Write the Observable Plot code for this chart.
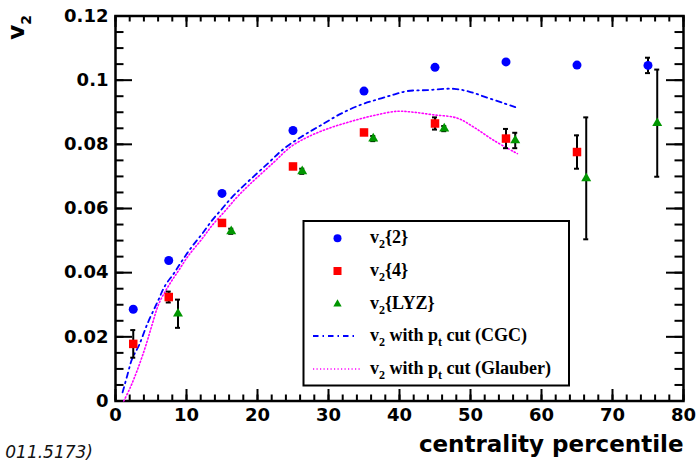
<!DOCTYPE html>
<html><head><meta charset="utf-8">
<script src="https://cdn.jsdelivr.net/npm/d3@7"></script>
<script src="https://cdn.jsdelivr.net/npm/@observablehq/plot@0.6"></script>
<style>
html,body{margin:0;padding:0;background:#fff;}
#wrap{position:relative;width:697px;height:461px;overflow:hidden;}
</style></head><body><div id="wrap"></div>
<script>
// ---- tick values & labels ----
const xMajor = [0, 10, 20, 30, 40, 50, 60, 70, 80];
const xTickLabels = ["0", "10", "20", "30", "40", "50", "60", "70", "80"];
const yMajor = [0, 0.02, 0.04, 0.06, 0.08, 0.1, 0.12];
const yTickLabels = ["0", "0.02", "0.04", "0.06", "0.08", "0.1", "0.12"];
const xMinor = d3.range(0, 80.001, 2);
const yMinor = d3.range(0, 0.12001, 0.005);

// ---- v2{2} (blue circles) ----
const v22X = [2.5, 7.5, 15, 25, 35, 45, 55, 65, 75];
const v22Y = [0.0286, 0.0438, 0.0647, 0.0843, 0.0966, 0.1040, 0.1057, 0.1047, 0.1046];
const v22E = [0, 0, 0, 0, 0, 0, 0, 0, 0.0024];

// ---- v2{4} (red squares) ----
const v24X = [2.5, 7.5, 15, 25, 35, 45, 55, 65];
const v24Y = [0.0178, 0.0324, 0.0555, 0.0731, 0.0837, 0.0865, 0.0818, 0.0776];
const v24E = [0.0043, 0.0017, 0.0008, 0.0008, 0.0008, 0.0019, 0.0030, 0.0052];

// ---- v2{LYZ} (green triangles) ----
const lyzX = [8.8, 16.3, 26.3, 36.3, 46.3, 56.3, 66.3, 76.3];
const lyzY = [0.0272, 0.0529, 0.0716, 0.0818, 0.0849, 0.0812, 0.0694, 0.0866];
const lyzE = [0.0044, 0.0008, 0.0008, 0.0008, 0.0008, 0.0024, 0.0190, 0.0167];

// ---- CGC curve (blue dash-dot) ----
const cgcX = [1.0, 1.65, 2.35, 3.3, 4.5, 5.9, 7.0, 8.2, 9.4, 10.8, 12.2, 13.6, 15.0, 16.4, 18.1, 21.4, 23.7, 26.5, 28.9, 31.7, 34.5, 36.9, 39.2, 41.1, 43.9, 47.7, 50.0, 52.4, 54.7, 56.3];
const cgcY = [0.0027, 0.0079, 0.0132, 0.0173, 0.0241, 0.0308, 0.0360, 0.0397, 0.0438, 0.0482, 0.0521, 0.0563, 0.0599, 0.0635, 0.0672, 0.0739, 0.0786, 0.0828, 0.0859, 0.0895, 0.0923, 0.0940, 0.0955, 0.0966, 0.0969, 0.0973, 0.0963, 0.0945, 0.0928, 0.0916];

// ---- Glauber curve (magenta dotted) ----
const glbX = [1.17, 2.1, 3.05, 4.2, 5.2, 6.1, 7.5, 8.9, 10.3, 12.0, 13.6, 15.5, 17.1, 19.0, 22.3, 24.6, 27.0, 29.8, 33.1, 36.4, 39.7, 42.0, 44.8, 48.1, 50.5, 53.3, 56.6];
const glbY = [0.0, 0.0043, 0.0095, 0.0168, 0.0241, 0.0303, 0.0360, 0.0407, 0.0454, 0.0500, 0.0547, 0.0594, 0.0635, 0.0677, 0.0744, 0.0791, 0.0822, 0.0848, 0.0871, 0.0890, 0.0903, 0.0900, 0.0892, 0.0882, 0.0853, 0.0812, 0.0771];

const BLUE = "#0000ff", RED = "#ff0000", GREEN = "#009600", MAGENTA = "#ff00ff";
const CGC_DASH = "5.5,4,1.5,4", GLB_DASH = "1.2,2.3";
const SANS = "'DejaVu Sans', Verdana, sans-serif";

const pts = (X, Y, E) => X.map((x, i) => ({x, y: Y[i], e: E ? E[i] : 0}));
const d22 = pts(v22X, v22Y, v22E), d24 = pts(v24X, v24Y, v24E), dLyz = pts(lyzX, lyzY, lyzE);
const cgc = pts(cgcX, cgcY), glb = pts(glbX, glbY);
const errs = [...d22, ...d24, ...dLyz].filter(d => d.e > 0);

const TW = 2;
const plot = Plot.plot({
  width: 697, height: 461,
  marginLeft: 115, marginRight: 14, marginTop: 15.5, marginBottom: 60.5,
  x: {domain: [0, 80], label: null},
  y: {domain: [0, 0.12], label: null},
  style: {fontFamily: SANS, fontSize: "18px", fontWeight: "bold", background: "white", color: "black"},
  marks: [
    // axis labels
    Plot.axisX(xMajor, {anchor: "bottom", tickSize: 0, tickPadding: 7, label: null, fontSize: 18, fontWeight: "bold",
      tickFormat: d => xTickLabels[xMajor.indexOf(d)]}),
    Plot.axisY(yMajor, {anchor: "left", tickSize: 0, tickPadding: 7, label: null, fontSize: 18, fontWeight: "bold",
      tickFormat: d => yTickLabels[yMajor.indexOf(d)]}),
    // inward ticks: bottom & top
    Plot.ruleX(xMajor, {x: d => d, y1: 0, y2: 0, insetTop: -11.5, strokeWidth: TW}),
    Plot.ruleX(xMinor, {x: d => d, y1: 0, y2: 0, insetTop: -6, strokeWidth: TW}),
    Plot.ruleX(xMajor, {x: d => d, y1: 0.12, y2: 0.12, insetBottom: -11.5, strokeWidth: TW}),
    Plot.ruleX(xMinor, {x: d => d, y1: 0.12, y2: 0.12, insetBottom: -6, strokeWidth: TW}),
    // inward ticks: left & right
    Plot.ruleY(yMajor, {y: d => d, x1: 0, x2: 0, insetRight: -17, strokeWidth: TW}),
    Plot.ruleY(yMinor, {y: d => d, x1: 0, x2: 0, insetRight: -8.5, strokeWidth: TW}),
    Plot.ruleY(yMajor, {y: d => d, x1: 80, x2: 80, insetLeft: -17, strokeWidth: TW}),
    Plot.ruleY(yMinor, {y: d => d, x1: 80, x2: 80, insetLeft: -8.5, strokeWidth: TW}),
    Plot.frame({stroke: "black", strokeWidth: 2.5}),
    // theory curves
    Plot.line(cgc, {x: "x", y: "y", stroke: BLUE, strokeWidth: 1.8, strokeDasharray: CGC_DASH, curve: "catmull-rom"}),
    Plot.line(glb, {x: "x", y: "y", stroke: MAGENTA, strokeWidth: 1.6, strokeDasharray: GLB_DASH, curve: "catmull-rom"}),
    // error bars
    Plot.ruleX(errs, {x: "x", y1: d => d.y - d.e, y2: d => d.y + d.e, stroke: "black", strokeWidth: 2}),
    Plot.ruleY(errs, {y: d => d.y + d.e, x1: "x", x2: "x", insetLeft: -2.5, insetRight: -2.5, stroke: "black", strokeWidth: 2}),
    Plot.ruleY(errs, {y: d => d.y - d.e, x1: "x", x2: "x", insetLeft: -2.5, insetRight: -2.5, stroke: "black", strokeWidth: 2}),
    // markers
    Plot.dot(d22, {x: "x", y: "y", r: 4.5, fill: BLUE, stroke: "none", symbol: "circle"}),
    Plot.dot(d24, {x: "x", y: "y", r: 4.8, fill: RED, stroke: "none", symbol: "square"}),
    Plot.dot(dLyz, {x: "x", y: "y", r: 3.7, fill: GREEN, stroke: "none", symbol: "triangle"}),
    // x title
    Plot.text(["centrality percentile"], {text: d => d, frameAnchor: "bottom-right", dy: 44, textAnchor: "end",
      lineAnchor: "middle", fontSize: 23, fontWeight: "bold", fill: "black"})
  ]
});
document.getElementById("wrap").appendChild(plot);

// ---- y title, side note and legend ----
const svg = d3.select(plot);
const yt = svg.append("text")
  .attr("transform", "translate(24,15) rotate(-90)")
  .attr("text-anchor", "end")
  .style("font-family", SANS)
  .style("font-weight", "bold").style("font-size", "23px").attr("fill", "black");
yt.append("tspan").text("v");
yt.append("tspan").attr("dy", 7).style("font-size", "14px").text("2");

svg.append("text").attr("x", 93).attr("y", 458).attr("text-anchor", "end")
  .style("font-family", SANS).style("font-style", "italic")
  .style("font-weight", "normal").style("font-size", "17px").attr("fill", "#111").text("011.5173)");

const lg = svg.append("g");
lg.append("rect").attr("x", 303.5).attr("y", 221).attr("width", 265.5).attr("height", 164.5)
  .attr("fill", "white").attr("stroke", "black").attr("stroke-width", 2);
const rows = [238.3, 271, 304, 336, 369];
const mx = 337.5, tx = 370;
lg.append("circle").attr("cx", mx).attr("cy", rows[0]).attr("r", 4).attr("fill", BLUE);
lg.append("rect").attr("x", mx - 4).attr("y", rows[1] - 4).attr("width", 8).attr("height", 8).attr("fill", RED);
lg.append("path").attr("d", d3.symbol(d3.symbolTriangle, 30)()).attr("transform", `translate(${mx},${rows[2]})`).attr("fill", GREEN);
lg.append("line").attr("x1", 313).attr("x2", 357).attr("y1", rows[3]).attr("y2", rows[3])
  .attr("stroke", BLUE).attr("stroke-width", 1.8).attr("stroke-dasharray", CGC_DASH);
lg.append("line").attr("x1", 313).attr("x2", 360).attr("y1", rows[4]).attr("y2", rows[4])
  .attr("stroke", MAGENTA).attr("stroke-width", 1.6).attr("stroke-dasharray", GLB_DASH);
const labels = [
  [["v", 0], ["2", 1], ["{2}", 0]],
  [["v", 0], ["2", 1], ["{4}", 0]],
  [["v", 0], ["2", 1], ["{LYZ}", 0]],
  [["v", 0], ["2", 1], [" with p", 0], ["t", 1], [" cut (CGC)", 0]],
  [["v", 0], ["2", 1], [" with p", 0], ["t", 1], [" cut (Glauber)", 0]]
];
labels.forEach((parts, i) => {
  const t = lg.append("text").attr("x", tx).attr("y", rows[i] + 5).attr("text-anchor", "start")
    .style("font-family", "'Liberation Serif', 'Times New Roman', serif").style("font-weight", "bold")
    .style("font-size", "18px").attr("fill", "black");
  let low = false;
  parts.forEach(([s, sub]) => {
    const ts = t.append("tspan").text(s);
    if (sub) ts.style("font-size", "12px");
    if (sub && !low) { ts.attr("dy", 5); low = true; }
    else if (!sub && low) { ts.attr("dy", -5); low = false; }
  });
});
</script></body></html>
